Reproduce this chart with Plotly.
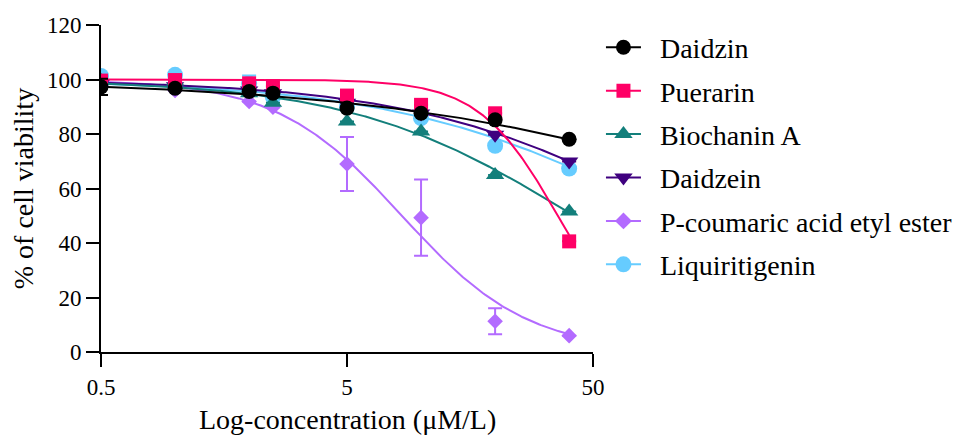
import numpy as np
import plotly.graph_objects as go

# Concentrations tested (µM/L)
concentration = [0.5, 1, 2, 2.5, 5, 10, 20, 40]

# Mean % cell viability per compound
compounds = ["Daidzin", "Puerarin", "Biochanin A", "Daidzein",
             "P-coumaric acid etyl ester", "Liquiritigenin"]
daidzin = [97.3, 96.8, 95.6, 95.0, 89.5, 87.6, 85.2, 78.1]
puerarin = [99.6, 99.8, 98.6, 97.6, 94.1, 90.7, 87.6, 40.6]
biochanin_a = [99.5, 99.3, 95.0, 91.5, 84.6, 80.9, 65.0, 51.6]
daidzein = [98.5, 97.5, 96.0, 95.0, 91.5, 87.5, 79.7, 69.9]
p_coumaric = [98.0, 96.0, 91.9, 89.8, 69.0, 49.3, 11.3, 6.0]
liquiritigenin = [101.3, 101.7, 98.5, 93.5, 90.0, 85.8, 75.7, 67.3]

# Standard deviations (None = no bar drawn)
daidzin_err = [3.0, None, None, None, None, None, None, None]
puerarin_err = [None] * 8
biochanin_a_err = [None] * 8
daidzein_err = [None] * 8
p_coumaric_err = [None, None, None, None, 9.9, 14.0, 4.8, None]
liquiritigenin_err = [None, None, 3.0, None, None, None, None, None]

# Four-parameter logistic fit (top, bottom, IC50, Hill slope)
fit_top = [100, 100, 100, 100, 100, 100]
fit_bottom = [0, 0, 0, 0, 0, 0]
fit_ic50 = [435, 36, 42, 113, 8.36, 105]
fit_hill = [0.53, 2.69, 0.946, 0.814, 1.7, 0.78]

values = [daidzin, puerarin, biochanin_a, daidzein, p_coumaric, liquiritigenin]
errors = [daidzin_err, puerarin_err, biochanin_a_err, daidzein_err,
          p_coumaric_err, liquiritigenin_err]
colors = ["#000000", "#FF0066", "#137F7B", "#3F007F", "#B36BFF", "#66CCFF"]
symbols = ["circle", "square", "triangle-up", "triangle-down", "diamond", "circle"]
sizes = [15, 14, 16, 16, 12, 16]
legend_sizes = [15, 14, 16, 16, 13, 16]

SERIF = "Liberation Serif"
LEGEND_PAD = "\u00a0\u00a0"  # small gap between legend symbol and label

fig = go.Figure()

x_fit = np.logspace(np.log10(min(concentration)), np.log10(max(concentration)), 300)

# draw back-to-front so Daidzin ends up on top
for i in reversed(range(len(compounds))):
    top, bottom, ic50, hill = fit_top[i], fit_bottom[i], fit_ic50[i], fit_hill[i]
    y_fit = bottom + (top - bottom) / (1 + (x_fit / ic50) ** hill)
    fig.add_trace(go.Scatter(
        x=x_fit, y=y_fit, mode="lines",
        line=dict(color=colors[i], width=2),
        legendgroup=compounds[i], showlegend=False, hoverinfo="skip"))
    fig.add_trace(go.Scatter(
        x=concentration, y=values[i], mode="markers",
        marker=dict(color=colors[i], symbol=symbols[i], size=sizes[i],
                    line=dict(width=0)),
        error_y=dict(type="data", array=errors[i], visible=True,
                     color=colors[i], thickness=2, width=7),
        legendgroup=compounds[i], showlegend=False, name=compounds[i]))

# legend entries (line + marker) in reading order
for i in range(len(compounds)):
    fig.add_trace(go.Scatter(
        x=[None], y=[None], mode="lines+markers", name=LEGEND_PAD + compounds[i],
        line=dict(color=colors[i], width=2),
        marker=dict(color=colors[i], symbol=symbols[i], size=legend_sizes[i],
                    line=dict(width=0)),
        legendgroup=compounds[i], showlegend=True))

axis_common = dict(
    showline=True, linecolor="black", linewidth=2,
    ticks="outside", ticklen=13, tickwidth=2, tickcolor="black",
    showgrid=False, zeroline=False, automargin=False,
    tickfont=dict(family=SERIF, size=23, color="black"),
)

fig.update_xaxes(type="log", range=[np.log10(0.5), np.log10(50)],
                 tickvals=[0.5, 5, 50], ticktext=["0.5", "5", "50"],
                 **axis_common)
fig.update_yaxes(range=[0, 120], tickvals=[0, 20, 40, 60, 80, 100, 120],
                 **axis_common)

fig.add_annotation(text="Log-concentration (μM/L)", xref="paper", yref="paper",
                   x=0.5, y=-0.207, xanchor="center", yanchor="middle",
                   showarrow=False, font=dict(family=SERIF, size=28, color="black"))
fig.add_annotation(text="% of cell viability", xref="paper", yref="paper",
                   x=-0.157, y=0.5, xanchor="center", yanchor="middle", textangle=-90,
                   showarrow=False, font=dict(family=SERIF, size=28, color="black"))

fig.update_layout(
    template="none",
    width=960, height=435,
    margin=dict(l=101, r=367, t=25, b=82.5),
    paper_bgcolor="white", plot_bgcolor="white",
    font=dict(family=SERIF, color="black"),
    showlegend=True,
    legend=dict(xref="container", yref="container",
                x=0.626, xanchor="left", y=0.948, yanchor="top",
                maxheight=420,
                font=dict(family=SERIF, size=28, color="black"),
                itemwidth=35, tracegroupgap=4, traceorder="grouped",
                bgcolor="rgba(0,0,0,0)"),
)

fig.write_html("out.html")
